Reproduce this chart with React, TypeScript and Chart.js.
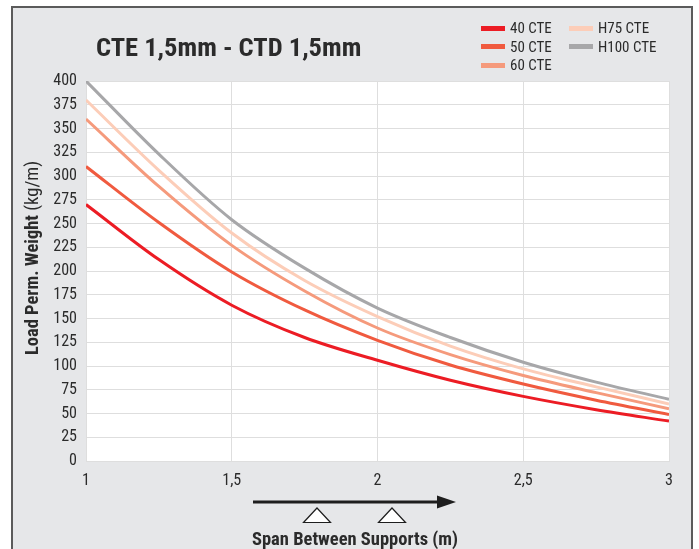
import { useEffect, useRef } from "react";
import { Chart, registerables } from "chart.js";

Chart.register(...registerables);

const spans = [1, 1.25, 1.5, 1.75, 2, 2.25, 2.5, 2.75, 3];
const cte40 = [270, 212, 164, 130, 106, 85, 68, 54, 42];
const cte50 = [310, 251, 199, 159, 127, 101, 81, 64, 49];
const cte60 = [360, 289, 227, 179, 140, 112, 90, 72, 55];
const h75 = [380, 306, 240, 190, 152, 121, 97, 78, 60];
const h100 = [400, 323, 254, 203, 161, 130, 104, 83, 65];

const seriesNames = ["40 CTE", "50 CTE", "60 CTE", "H75 CTE", "H100 CTE"];
const seriesValues = [cte40, cte50, cte60, h75, h100];
const seriesColors = ["#ec1c24", "#f05a3f", "#f59a7c", "#fccdb8", "#a7a7a9"];

const titleText = "CTE 1,5mm - CTD 1,5mm";
const yTitleBold = "Load Perm. Weight";
const yTitleNormal = "(kg/m)";
const xTitleText = "Span Between Supports (m)";

const FONT = "'Roboto Condensed', 'Liberation Sans Narrow', 'Arial Narrow', Roboto, sans-serif";
const TEXT = "#2b2b2b";

const plotBg = {
  id: "plotBg",
  beforeDraw(chart: any) {
    const { ctx, chartArea } = chart;
    ctx.save();
    ctx.fillStyle = "#ffffff";
    ctx.fillRect(chartArea.left, chartArea.top, chartArea.right - chartArea.left, chartArea.bottom - chartArea.top);
    ctx.restore();
  },
};

export default function App() {
  const ref = useRef<HTMLCanvasElement | null>(null);

  useEffect(() => {
    if (!ref.current) return;
    const chart = new Chart(ref.current, {
      type: "line",
      data: {
        datasets: seriesNames.map((name, i) => ({
          label: name,
          data: spans.map((x, j) => ({ x, y: seriesValues[i][j] })),
          borderColor: seriesColors[i],
          backgroundColor: seriesColors[i],
          borderWidth: 3,
          pointRadius: 0,
          cubicInterpolationMode: "monotone" as const,
          fill: false,
        })),
      },
      options: {
        animation: false,
        responsive: false,
        layout: { padding: { top: 81, right: 30, left: 0, bottom: 0 } },
        plugins: { legend: { display: false }, tooltip: { enabled: false } },
        scales: {
          x: {
            type: "linear",
            min: 1,
            max: 3,
            afterFit: (s: any) => {
              s.height = 88;
            },
            ticks: {
              stepSize: 0.5,
              padding: 10,
              color: TEXT,
              font: { family: FONT, size: 16 },
              callback: (v: any) => String(v).replace(".", ","),
            },
            grid: { color: "#dedede", drawTicks: false },
            border: { color: "#dedede" },
          },
          y: {
            min: 0,
            max: 400,
            afterFit: (s: any) => {
              s.width = 86;
            },
            ticks: {
              stepSize: 25,
              padding: 9,
              color: TEXT,
              font: { family: FONT, size: 16 },
            },
            grid: { color: "#dedede", drawTicks: false },
            border: { color: "#dedede" },
          },
        },
      },
      plugins: [plotBg],
    });
    return () => chart.destroy();
  }, []);

  const col1 = [0, 1, 2];
  const col2 = [3, 4];

  const legendItem = (i: number, left: number, top: number) => (
    <div key={i} style={{ position: "absolute", left, top, height: 18, display: "flex", alignItems: "center" }}>
      <div style={{ width: 24, height: 5, background: seriesColors[i], marginRight: 5 }} />
      <span style={{ fontFamily: FONT, fontSize: 15, color: TEXT, whiteSpace: "nowrap" }}>{seriesNames[i]}</span>
    </div>
  );

  return (
    <div style={{ position: "fixed", left: 0, top: 0, width: 699, height: 549, overflow: "hidden", background: "#fff" }}>
      <div
        style={{
          position: "absolute",
          left: 11,
          top: 6,
          width: 678,
          height: 560,
          background: "#e6e7e9",
          border: "2px solid #5b5b5b",
        }}
      />
      <canvas ref={ref} width={699} height={549} style={{ position: "absolute", left: 0, top: 0, width: 699, height: 549 }} />
      <div
        style={{
          position: "absolute",
          left: 96,
          top: 31,
          fontFamily: FONT,
          fontWeight: 700,
          fontSize: 26.5,
          color: TEXT,
          whiteSpace: "nowrap",
        }}
      >
        {titleText}
      </div>
      {col1.map((i, k) => legendItem(i, 481, 19 + k * 18.7))}
      {col2.map((i, k) => legendItem(i, 569, 19 + k * 18.7))}
      <div
        style={{
          position: "absolute",
          left: 32,
          top: 258,
          transform: "translate(-50%, -50%) rotate(-90deg)",
          fontFamily: FONT,
          fontSize: 18.5,
          color: TEXT,
          whiteSpace: "nowrap",
        }}
      >
        <span style={{ fontWeight: 700 }}>{yTitleBold}</span> <span>{yTitleNormal}</span>
      </div>
      <svg width={699} height={549} style={{ position: "absolute", left: 0, top: 0, pointerEvents: "none" }}>
        <line x1={253} y1={502} x2={440} y2={502} stroke="#1e1e1e" strokeWidth={3} />
        <polygon points="437,495.5 456,502 437,508.5" fill="#1e1e1e" />
        <polygon points="317,508 330.5,522.5 303.5,522.5" fill="#ffffff" stroke="#1e1e1e" strokeWidth={1.2} />
        <polygon points="392,508 405.5,522.5 378.5,522.5" fill="#ffffff" stroke="#1e1e1e" strokeWidth={1.2} />
      </svg>
      <div
        style={{
          position: "absolute",
          left: 355,
          top: 539,
          transform: "translate(-50%, -50%)",
          fontFamily: FONT,
          fontWeight: 700,
          fontSize: 18.5,
          color: TEXT,
          whiteSpace: "nowrap",
        }}
      >
        {xTitleText}
      </div>
    </div>
  );
}
